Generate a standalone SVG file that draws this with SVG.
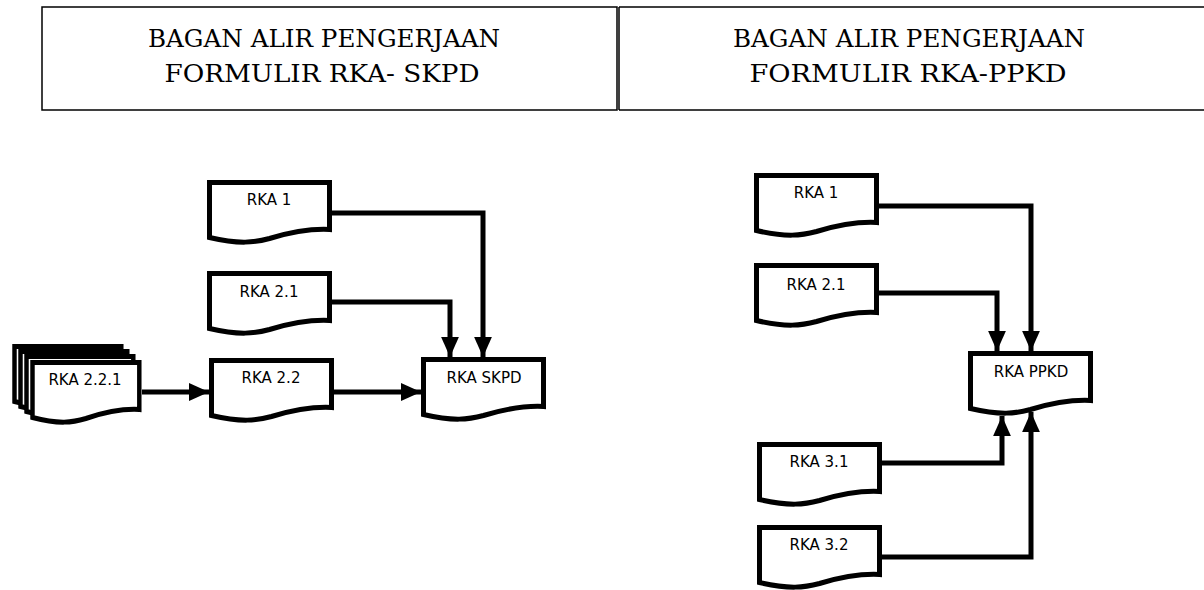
<svg xmlns="http://www.w3.org/2000/svg" width="1204" height="590" viewBox="0 0 1204 590">
  <style>
    .hdr { fill: none; stroke: #000; stroke-width: 1.5; }
    .htxt { font-family: "DejaVu Serif", "Liberation Serif", serif; font-size: 25px; fill: #000; text-anchor: middle; }
    .doc { fill: #fff; stroke: #000; stroke-width: 5; stroke-linejoin: miter; }
    .lbl { font-family: "DejaVu Sans", "Noto Sans", sans-serif; font-size: 15px; fill: #000; text-anchor: middle; }
    .conn { fill: none; stroke: #000; stroke-width: 5; stroke-linejoin: miter; stroke-linecap: butt; }
  </style>
  <defs>
    <path id="docShape" d="M0,0 H120 V47 C100,46 80,50 60,56 C45,60 30,62 0,55 Z"/>
    <marker id="arr" markerUnits="userSpaceOnUse" markerWidth="20" markerHeight="18" viewBox="0 0 18 16" refX="18" refY="8" orient="auto">
      <path d="M0,0 L18,8 L0,16 Z" fill="#000"/>
    </marker>
  </defs>
  <rect width="1204" height="590" fill="#fff"/>

  <g id="header">
    <path class="hdr" d="M42,7 H617 V110 H42 Z"/>
    <path class="hdr" d="M619,7 H1204 M619,110 H1204 M619,7 V110"/>
    <text class="htxt" x="324" y="47" textLength="352" lengthAdjust="spacingAndGlyphs">BAGAN ALIR PENGERJAAN</text>
    <text class="htxt" x="322" y="82" textLength="315" lengthAdjust="spacingAndGlyphs">FORMULIR RKA- SKPD</text>
    <text class="htxt" x="909" y="47" textLength="352" lengthAdjust="spacingAndGlyphs">BAGAN ALIR PENGERJAAN</text>
    <text class="htxt" x="908" y="82" textLength="317" lengthAdjust="spacingAndGlyphs">FORMULIR RKA-PPKD</text>
  </g>

  <g id="connectors">
    <path class="conn" d="M332,213 H483 V357" marker-end="url(#arr)"/>
    <path class="conn" d="M332,302 H450 V357" marker-end="url(#arr)"/>
    <path class="conn" d="M142,392 H209" marker-end="url(#arr)"/>
    <path class="conn" d="M334,392 H421" marker-end="url(#arr)"/>
    <path class="conn" d="M879,206 H1031 V351" marker-end="url(#arr)"/>
    <path class="conn" d="M879,293 H997 V351" marker-end="url(#arr)"/>
    <path class="conn" d="M880,463 H1002 V416" marker-end="url(#arr)"/>
    <path class="conn" d="M880,557 H1031 V412" marker-end="url(#arr)"/>
  </g>

  <g id="left-rka1">
    <use href="#docShape" class="doc" transform="translate(209.5,182.5)"/>
    <text class="lbl" x="269" y="205">RKA 1</text>
  </g>
  <g id="left-rka21">
    <use href="#docShape" class="doc" transform="translate(209.5,273.5)"/>
    <text class="lbl" x="269" y="297">RKA 2.1</text>
  </g>
  <g id="left-rka221">
    <use href="#docShape" class="doc" transform="translate(14.5,346.5) scale(0.89,1)"/>
    <use href="#docShape" class="doc" transform="translate(20.5,351.5) scale(0.89,1)"/>
    <use href="#docShape" class="doc" transform="translate(26.5,356.5) scale(0.89,1)"/>
    <use href="#docShape" class="doc" transform="translate(32.5,362.5) scale(0.89,1)"/>
    <text class="lbl" x="85" y="385">RKA 2.2.1</text>
  </g>
  <g id="left-rka22">
    <use href="#docShape" class="doc" transform="translate(211.5,360.5)"/>
    <text class="lbl" x="271" y="383">RKA 2.2</text>
  </g>
  <g id="left-rkaskpd">
    <use href="#docShape" class="doc" transform="translate(423.5,359.5)"/>
    <text class="lbl" x="484" y="383">RKA SKPD</text>
  </g>

  <g id="right-rka1">
    <use href="#docShape" class="doc" transform="translate(756.5,175.5)"/>
    <text class="lbl" x="816" y="198">RKA 1</text>
  </g>
  <g id="right-rka21">
    <use href="#docShape" class="doc" transform="translate(756.5,265.5)"/>
    <text class="lbl" x="816" y="290">RKA 2.1</text>
  </g>
  <g id="right-rkappkd">
    <use href="#docShape" class="doc" transform="translate(970.5,353.5)"/>
    <text class="lbl" x="1031" y="377">RKA PPKD</text>
  </g>
  <g id="right-rka31">
    <use href="#docShape" class="doc" transform="translate(759.5,444.5)"/>
    <text class="lbl" x="819" y="467">RKA 3.1</text>
  </g>
  <g id="right-rka32">
    <use href="#docShape" class="doc" transform="translate(759.5,527.5)"/>
    <text class="lbl" x="819" y="550">RKA 3.2</text>
  </g>
</svg>
